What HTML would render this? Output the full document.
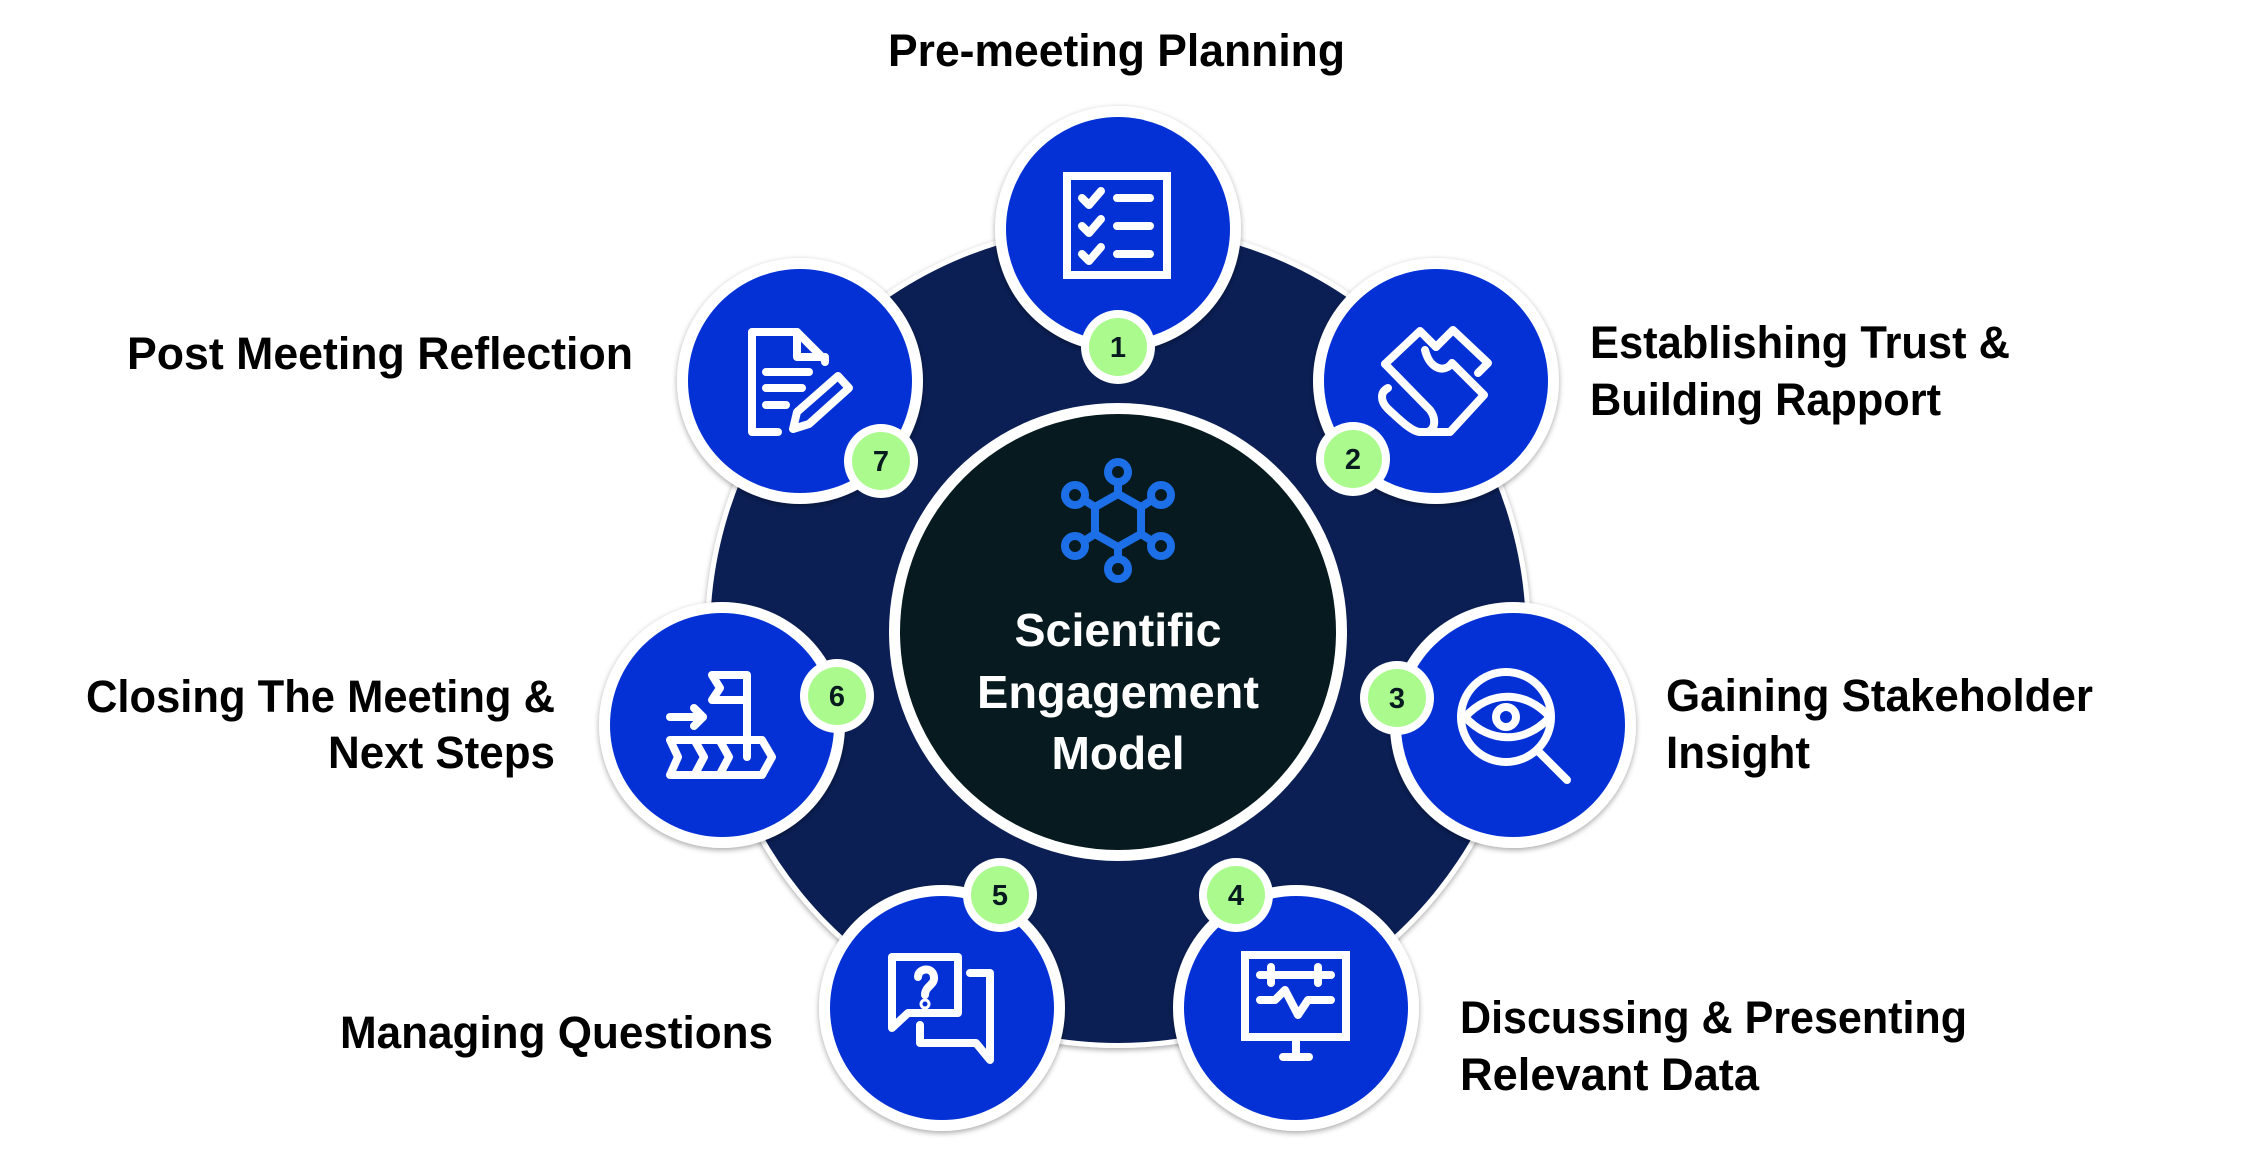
<!DOCTYPE html>
<html><head><meta charset="utf-8"><style>
html,body{margin:0;padding:0;background:#fff;}
svg{display:block;}
text{font-family:"Liberation Sans",Arial,sans-serif;font-weight:bold;}
</style></head><body>
<svg width="2256" height="1168" viewBox="0 0 2256 1168" xmlns="http://www.w3.org/2000/svg">
<defs>
<filter id="sh" x="-20%" y="-20%" width="140%" height="140%"><feGaussianBlur in="SourceAlpha" stdDeviation="3"/><feOffset dx="0" dy="2"/><feComponentTransfer><feFuncA type="linear" slope="0.35"/></feComponentTransfer><feMerge><feMergeNode/><feMergeNode in="SourceGraphic"/></feMerge></filter>
</defs>
<circle cx="1118" cy="635" r="413" fill="#fff" filter="url(#sh)"/>
<circle cx="1118" cy="635" r="408" fill="#0b1f55"/>
<g filter="url(#sh)" fill="#fff">
<circle cx="1118" cy="229" r="123"/>
<circle cx="1436" cy="381" r="123"/>
<circle cx="1513" cy="725" r="123"/>
<circle cx="1296" cy="1008" r="123"/>
<circle cx="942" cy="1008" r="123"/>
<circle cx="722" cy="725" r="123"/>
<circle cx="800" cy="381" r="123"/>
</g>
<g fill="#0331d6">
<circle cx="1118" cy="229" r="112"/>
<circle cx="1436" cy="381" r="112"/>
<circle cx="1513" cy="725" r="112"/>
<circle cx="1296" cy="1008" r="112"/>
<circle cx="942" cy="1008" r="112"/>
<circle cx="722" cy="725" r="112"/>
<circle cx="800" cy="381" r="112"/>
</g>
<circle cx="1118" cy="632" r="229" fill="#fff"/>
<circle cx="1118" cy="632" r="218" fill="#061a1f"/>
<g stroke="#1c6fe6" stroke-width="8" fill="none" stroke-linecap="round" stroke-linejoin="round">
<polygon points="1118,494 1141,507 1141,534 1118,547 1095,534 1095,507"/>
<line x1="1118" y1="494" x2="1118" y2="482"/>
<line x1="1118" y1="547" x2="1118" y2="559"/>
<line x1="1141" y1="507" x2="1152" y2="500"/>
<line x1="1095" y1="507" x2="1084" y2="500"/>
<line x1="1141" y1="534" x2="1152" y2="541"/>
<line x1="1095" y1="534" x2="1084" y2="541"/>
<circle cx="1118" cy="472" r="10"/>
<circle cx="1118" cy="569" r="10"/>
<circle cx="1161" cy="495" r="10"/>
<circle cx="1075" cy="495" r="10"/>
<circle cx="1161" cy="546" r="10"/>
<circle cx="1075" cy="546" r="10"/>
</g>
<g fill="#fff" text-anchor="middle" font-size="46">
<text x="1118" y="646" textLength="207" lengthAdjust="spacingAndGlyphs">Scientific</text>
<text x="1118" y="708" textLength="282" lengthAdjust="spacingAndGlyphs">Engagement</text>
<text x="1118" y="769" textLength="133" lengthAdjust="spacingAndGlyphs">Model</text>
</g>
<g stroke="#fff" stroke-width="8" fill="none" stroke-linecap="round" stroke-linejoin="round">
<rect x="1067" y="176" width="100" height="99" stroke-linecap="butt" stroke-linejoin="miter"/>
<polyline points="1082,198 1089,205 1101,191"/>
<polyline points="1082,226 1089,233 1101,219"/>
<polyline points="1082,254 1089,261 1101,247"/>
<line x1="1117" y1="198" x2="1150" y2="198"/>
<line x1="1117" y1="226" x2="1150" y2="226"/>
<line x1="1117" y1="254" x2="1150" y2="254"/>
<path d="M1385,364 L1420,331 L1436,347"/>
<path d="M1425,350 C1430,370 1445,373 1452,363 L1484,395 L1450,432 L1420,432"/>
<path d="M1436,347 L1453,330 L1488,363 L1478,373"/>
<path d="M1385,364 L1430,410 C1436,418 1436,430 1427,432 L1420,432 C1412,432 1400,420 1388,409 C1380,401 1380,392 1388,388"/>
<circle cx="1506" cy="717" r="45"/>
<path d="M1465,717 C1490,690 1525,690 1550,717 C1525,744 1490,744 1465,717 Z"/>
<circle cx="1506" cy="717" r="10"/>
<line x1="1538" y1="751" x2="1567" y2="780"/>
<rect x="1245" y="955" width="101" height="82" stroke-linecap="butt" stroke-linejoin="miter"/>
<line x1="1296" y1="1037" x2="1296" y2="1057"/>
<line x1="1283" y1="1057" x2="1309" y2="1057"/>
<line x1="1260" y1="975" x2="1331" y2="975"/>
<line x1="1271" y1="967" x2="1271" y2="983"/>
<line x1="1318" y1="967" x2="1318" y2="983"/>
<polyline points="1260,1000 1275,1000 1285,990 1298,1015 1308,1000 1331,1000"/>
<path d="M958,990 L958,957 L892,957 L892,1028 L908,1013 L958,1013 Z"/>
<path d="M970,973 L990,973 L990,1060 L976,1043 L920,1043 L920,1025"/>
<path d="M918,977 C918,968 933,966 934,977 C935,985 925,986 925,995"/>
<circle cx="925" cy="1004" r="1.5"/>
<line x1="670" y1="717" x2="703" y2="717"/>
<polyline points="694,708 703,717 694,726"/>
<polyline points="747,757 747,675 712,675 720,688 712,700 747,700"/>
<path d="M670,740 L762,740 L772,757 L762,775 L670,775 L678,757 Z"/>
<polyline points="695,741 704,757 695,774"/>
<polyline points="720,741 729,757 720,774"/>
<path d="M778,432 L752,432 L752,332 L797,332 L825,360"/>
<path d="M797,332 L797,357 L825,357 L825,362"/>
<line x1="766" y1="372" x2="809" y2="372"/>
<line x1="766" y1="388" x2="802" y2="388"/>
<line x1="766" y1="405" x2="786" y2="405"/>
<path d="M793,429 L797,412 L838,376 L849,388 L809,424 Z"/>
</g>
<g fill="#fff">
<circle cx="1118" cy="347" r="37"/><circle cx="1353" cy="459" r="37"/><circle cx="1397" cy="698" r="37"/><circle cx="1236" cy="895" r="37"/><circle cx="1000" cy="895" r="37"/><circle cx="837" cy="696" r="37"/><circle cx="881" cy="461" r="37"/>
</g>
<g fill="#aafa8d">
<circle cx="1118" cy="347" r="29"/><circle cx="1353" cy="459" r="29"/><circle cx="1397" cy="698" r="29"/><circle cx="1236" cy="895" r="29"/><circle cx="1000" cy="895" r="29"/><circle cx="837" cy="696" r="29"/><circle cx="881" cy="461" r="29"/>
</g>
<g fill="#061a1f" text-anchor="middle" font-size="29">
<text x="1118" y="357">1</text><text x="1353" y="469">2</text><text x="1397" y="708">3</text><text x="1236" y="905">4</text><text x="1000" y="905">5</text><text x="837" y="706">6</text><text x="881" y="471">7</text>
</g>
<g fill="#000" font-size="45">
<text x="888" y="66" textLength="457" lengthAdjust="spacingAndGlyphs">Pre-meeting Planning</text>
<text x="127" y="369" textLength="506" lengthAdjust="spacingAndGlyphs">Post Meeting Reflection</text>
<text x="1590" y="358" textLength="420" lengthAdjust="spacingAndGlyphs">Establishing Trust &amp;</text>
<text x="1590" y="415" textLength="351" lengthAdjust="spacingAndGlyphs">Building Rapport</text>
<text x="1666" y="711" textLength="427" lengthAdjust="spacingAndGlyphs">Gaining Stakeholder</text>
<text x="1666" y="768" textLength="144" lengthAdjust="spacingAndGlyphs">Insight</text>
<text x="86" y="712" textLength="469" lengthAdjust="spacingAndGlyphs">Closing The Meeting &amp;</text>
<text x="328" y="768" textLength="227" lengthAdjust="spacingAndGlyphs">Next Steps</text>
<text x="340" y="1048" textLength="433" lengthAdjust="spacingAndGlyphs">Managing Questions</text>
<text x="1460" y="1033" textLength="507" lengthAdjust="spacingAndGlyphs">Discussing &amp; Presenting</text>
<text x="1460" y="1090" textLength="299" lengthAdjust="spacingAndGlyphs">Relevant Data</text>
</g>
</svg>
</body></html>
